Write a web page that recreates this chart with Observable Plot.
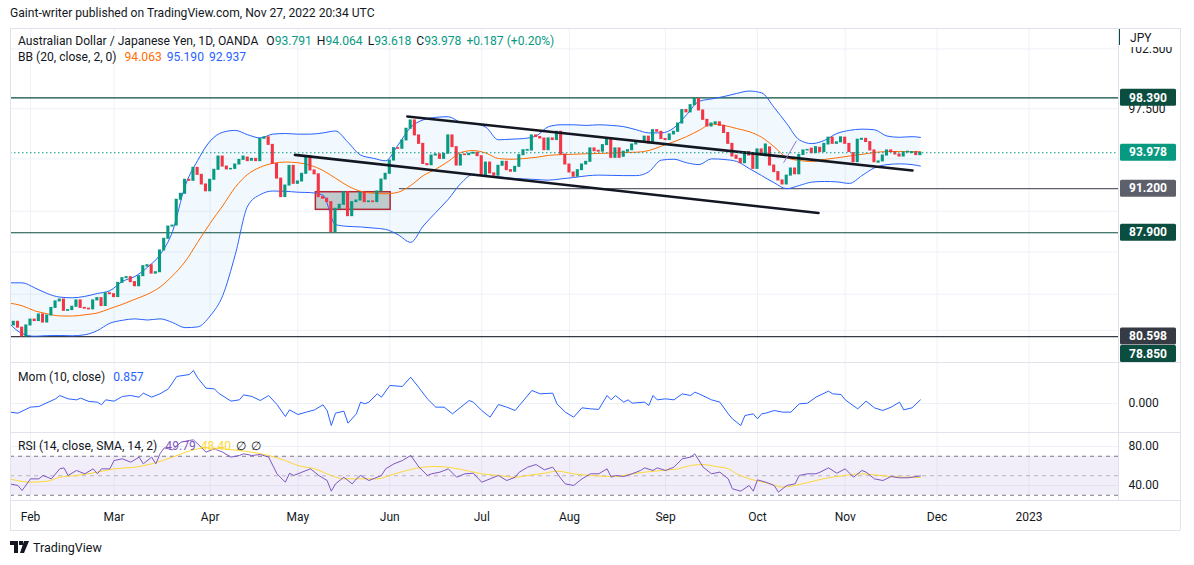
<!DOCTYPE html>
<html><head><meta charset="utf-8">
<script src="https://cdn.jsdelivr.net/npm/d3@7"></script>
<script src="https://cdn.jsdelivr.net/npm/@observablehq/plot@0.6"></script>
<style>
html,body{margin:0;padding:0;background:#fff;}
body{width:1194px;height:565px;overflow:hidden;font-family:Roboto,"Noto Sans",sans-serif;color:#131722;}
#wrap{position:relative;width:1194px;height:565px;}
.abs{position:absolute;white-space:nowrap;}
.pane{position:absolute;left:10px;}
.pane svg{overflow:hidden !important;}
.hl{position:absolute;background:#e0e3eb;}
.leg{font-size:12.1px;line-height:15px;}
.leg span{margin-left:5px;}
</style></head><body><div id="wrap"></div>
<script>
// ---------------- DATA ----------------
const calendarStart = "2022-01-25";           // first (partly visible) daily bar
const monthFirstDays = ["2022-02-01","2022-03-01","2022-04-01","2022-05-01","2022-06-01","2022-07-01","2022-08-01","2022-09-01","2022-10-01","2022-11-01","2022-12-01","2023-01-01"];
const monthLabels = ["Feb","Mar","Apr","May","Jun","Jul","Aug","Sep","Oct","Nov","Dec","2023"];

const opens = [
81.5,81.35,81.6,81.2,80.6,81.35,81.75,81.65,82.1,81.55,
82.03,82.55,83.0,83.13,82.35,82.4,82.63,83.07,82.55,82.5,
82.45,83.07,83.23,82.68,83.57,83.5,83.3,84.3,84.63,84.7,
84.35,84.06,84.77,85.45,85.55,84.95,85.05,86.61,87.46,88.36,
88.44,90.36,90.81,91.88,91.8,92.8,92.26,91.52,91.0,91.88,
92.65,93.68,92.9,92.68,92.72,93.06,93.42,93.6,93.35,93.5,
93.32,95.08,95.2,94.6,93.1,91.97,90.56,91.44,92.95,91.57,
91.75,92.34,93.7,92.6,92.3,90.56,90.44,90.18,87.94,89.68,
89.98,90.93,89.13,90.18,90.3,90.9,90.18,90.23,90.18,90.99,
91.9,92.34,93.37,94.34,94.29,94.95,95.88,96.55,95.35,94.68,
93.1,93.0,93.76,93.85,93.5,93.9,95.35,94.42,92.98,93.84,
93.79,93.9,93.98,93.71,92.19,93.21,92.37,92.19,92.96,93.27,
92.62,92.5,92.88,93.79,94.14,94.15,95.35,95.22,95.1,94.18,
95.11,94.98,95.64,93.84,93.06,92.44,92.11,92.62,93.06,93.27,
94.32,94.14,94.06,94.58,95.11,93.58,94.32,93.66,94.06,94.18,
94.63,94.85,94.79,95.25,94.71,95.77,95.64,95.06,94.98,95.43,
95.64,96.3,97.39,97.2,97.79,98.3,97.36,96.6,96.06,96.25,
96.4,96.12,95.54,94.68,93.75,93.5,93.16,94.03,93.9,92.72,
94.24,93.7,94.4,92.98,92.47,91.83,91.52,92.2,92.75,92.3,
93.8,94.16,94.3,93.95,94.37,94.03,94.63,95.17,94.68,94.8,
95.17,94.68,93.95,93.24,95.0,95.08,94.82,94.16,93.2,93.3,
93.76,94.16,94.03,93.84,93.68,94.0,93.95,94.03,93.791];
const closes = [
81.4,81.6,81.2,80.6,81.35,81.75,81.65,82.1,81.55,82.03,
82.55,83.0,83.13,82.35,82.4,82.63,83.07,82.55,82.5,82.45,
83.07,83.23,82.68,83.57,83.5,83.3,84.3,84.63,84.7,84.35,
84.06,84.77,85.48,85.55,84.95,85.05,86.61,87.46,88.36,88.43,
90.36,90.81,91.88,91.8,92.8,92.26,91.52,91.0,91.88,92.65,
93.68,92.9,92.68,92.72,93.06,93.42,93.68,93.32,93.5,93.32,
95.08,95.2,94.6,93.1,91.97,90.56,91.44,92.95,91.57,91.75,
92.34,93.7,92.6,92.3,90.56,90.44,90.18,87.94,89.68,89.98,
90.93,89.13,90.18,90.3,90.9,90.18,90.23,90.18,90.99,91.9,
92.34,93.37,94.34,94.29,94.95,95.88,96.55,95.35,94.68,93.1,
93.0,93.76,93.85,93.5,93.9,95.35,94.42,92.98,93.82,93.79,
93.9,93.98,93.71,92.19,93.21,92.37,92.19,92.96,93.27,92.62,
92.5,92.88,93.79,94.18,94.2,95.35,95.22,95.1,94.18,95.11,
94.98,95.64,93.84,93.06,92.44,92.11,92.62,93.06,93.27,94.32,
94.1,94.06,94.58,95.11,93.58,94.32,93.58,94.06,94.18,94.63,
94.85,94.79,95.25,94.71,95.77,95.64,95.06,94.98,95.43,95.64,
96.3,97.39,97.2,97.79,98.3,97.36,96.6,96.06,96.3,96.4,
96.12,95.54,94.68,93.68,93.5,93.16,94.03,93.76,92.72,94.24,
93.76,94.63,92.98,92.47,91.83,91.52,92.2,92.75,92.3,93.8,
94.16,94.2,93.95,94.42,94.03,94.68,95.17,94.68,94.8,95.2,
94.68,94.03,93.24,95.01,95.08,94.82,94.16,93.24,93.3,93.76,
94.16,94.03,93.84,93.68,94.0,94.06,94.03,93.791,93.978];

// Bollinger Bands (20, 2)
const bbIdx = [0,3,6,9,12,15,18,21,24,27,30,33,36,39,42,45,48,51,54,57,60,63,66,69,72,75,78,81,84,87,90,93,96,99,102,105,108,111,114,117,120,123,126,129,132,135,138,141,144,147,150,153,156,159,162,165,168,171,174,177,180,183,186,189,192,195,198,201,204,207,210,213,216,218];
const bbUpper = [84.3,84.3,83.95,83.55,83.3,83.25,83.35,83.55,83.75,84.4,84.75,85.4,86.3,88.0,91.4,93.37,94.9,95.6,95.75,95.4,95.15,95.45,95.5,95.45,95.45,95.55,95.7,94.8,93.8,93.55,93.35,94.6,96.0,96.6,96.8,96.85,96.4,96.3,96.0,95.0,95.05,95.1,95.3,96.05,96.2,96.2,96.15,96.2,96.15,96.05,95.8,95.55,95.55,95.95,97.0,98.1,98.3,98.5,98.75,98.95,98.8,97.6,96.3,95.0,94.7,94.95,95.5,95.75,95.85,95.8,95.3,95.2,95.25,95.19];
const bbMiddle = [82.88,82.7,82.35,82.15,82.0,81.99,82.08,82.2,82.5,82.8,83.15,83.5,84.0,84.8,85.8,87.2,88.6,89.9,91.3,92.3,92.85,93.15,93.25,93.2,93.0,92.6,92.0,91.4,91.0,90.86,90.81,90.93,91.44,92.2,92.7,93.3,94.0,94.15,93.95,93.53,93.47,93.52,93.62,93.77,93.83,93.86,93.9,93.92,93.96,94.0,94.02,94.15,94.5,94.85,95.25,95.75,96.25,96.15,95.9,95.65,95.2,94.45,93.6,93.37,93.3,93.45,93.58,93.72,93.85,94.0,94.07,94.08,94.05,94.063];
const bbLower = [81.46,80.8,80.62,80.66,80.67,80.65,80.72,81.0,81.5,81.7,81.8,81.72,81.8,81.55,81.2,81.25,82.0,83.4,86.3,89.9,90.75,91.02,91.0,90.93,90.9,90.7,88.5,88.37,88.33,88.25,88.15,87.75,87.2,88.4,89.4,90.4,91.6,92.3,92.17,92.11,92.0,91.95,91.9,91.85,91.95,92.05,92.18,92.24,92.22,92.2,92.2,92.5,93.4,93.47,93.2,93.05,93.5,93.45,93.3,92.75,92.2,91.65,91.2,91.44,91.7,91.75,91.72,91.6,92.2,92.8,93.05,93.11,93.05,92.937];

// Momentum (10, close)
const momIdx = [0,2,5,7,11,12,14,16,17,19,21,22,23,25,27,29,31,32,34,36,38,40,43,44,45,47,49,50,53,55,56,58,60,62,64,66,67,69,71,73,75,76,77,78,80,81,83,84,85,86,88,89,91,94,96,98,100,102,104,106,108,110,111,113,115,117,119,121,122,125,127,130,131,133,135,137,139,141,143,144,145,147,148,149,152,153,154,155,157,159,161,163,164,165,168,170,172,173,175,176,178,179,180,181,183,185,187,189,191,193,196,197,199,200,203,205,207,209,211,213,214,216,218];
const momVal = [-2.06,-2.3,-0.87,-0.71,1.11,1.9,1.11,0.87,1.27,0.48,0.32,-0.32,0.87,0.56,1.67,1.9,1.51,2.46,1.51,2.3,3.49,6.43,6.9,7.86,6.11,3.65,3.49,2.46,0.56,0.87,2.06,1.67,0.71,1.9,-0.24,-3.1,-1.51,-2.62,-2.06,-1.51,-0.32,-1.67,-5.24,-2.3,-1.83,-4.68,-2.46,0.32,-0.08,0.32,2.3,1.51,4.29,4.05,6.27,3.73,1.11,-0.87,-0.87,-2.46,-0.87,0.71,0.32,-1.67,-3.25,-0.24,-0.87,-1.67,-0.48,3.1,2.3,2.46,-0.08,-2.06,-3.25,-1.03,-1.27,-1.4,1.9,0.87,1.9,0.32,0.87,0.08,0.32,-0.48,1.9,0.87,1.11,0.87,2.3,1.9,2.7,2.3,0.87,0.32,-2.46,-3.65,-5.24,-2.86,-2.46,-3.65,-2.46,-2.3,-1.67,-2.06,-2.06,-0.08,0.08,1.51,2.94,2.3,2.14,0.87,-1.27,0.56,-1.03,-1.67,-0.87,0.32,-1.51,-1.03,0.857];

// RSI (14) and its SMA (14)
const rsiIdx = [0,2,3,5,7,8,10,12,13,14,16,18,20,21,22,24,25,27,29,31,32,34,35,36,37,39,41,43,44,46,47,49,51,53,55,56,58,60,62,64,66,67,68,70,72,74,76,77,78,80,82,83,84,86,87,89,90,92,94,96,98,100,101,103,105,107,109,111,113,115,117,119,121,122,124,126,128,130,132,133,135,137,139,141,143,144,145,147,149,151,152,154,155,157,159,161,163,164,166,168,170,172,173,175,177,178,179,181,183,184,186,188,189,191,193,194,196,198,200,202,204,205,207,209,211,213,215,216,218];
const rsiVal = [41.7,40,34.9,46.8,46.8,50.3,46.8,57.1,58.1,50.3,55.4,52,57.1,52,57.1,57.1,65.6,67.4,63.9,69.1,62.2,69.1,62.2,72.5,78.6,76.6,84.4,86.2,86.8,78.6,74.2,77.6,74.2,69.1,70.8,72.5,70.8,71.8,69.1,52,43.4,52.6,50.3,53.7,57.1,50.3,45.1,34.2,41.7,48.5,41.7,46.8,50.3,45.1,46.8,50.3,57.1,62.2,65.6,70.8,58.8,50.3,52,53.7,57.1,48.5,52,52.6,43.4,46.8,50.3,45.1,48.5,53.7,58.8,61.5,56.1,58.8,46.8,41.7,40,46.8,52,52,57.1,48.5,50.3,49.2,52,55.4,58.1,55.4,58.1,55.4,58.8,67.4,69.1,72.5,58.8,52,53.7,46.8,36.6,34.2,40,34.2,45.8,43.4,40,33.2,40,41.7,50.3,52,52,53.7,58.1,52.6,57.1,48.5,55.4,53.7,46.8,45.1,49.2,47.9,47.9,48.5,49.79];
const rsiSmaIdx = [0,5,9,12,16,21,25,30,34,39,44,47,51,55,58,62,66,69,73,77,80,84,88,91,95,99,102,106,110,113,117,121,124,128,131,135,139,145,149,152,156,160,163,166,169,172,174,178,182,185,189,193,196,200,204,207,211,215,218];
const rsiSmaVal = [46.8,43.4,44.4,48.5,50.3,53.7,57.1,58.8,62.2,69.1,76.6,78.6,77.6,75.9,74.2,70.8,65.6,60.5,57.1,50.3,46.8,46.8,46.8,50.3,55.4,58.8,59.5,58.1,54.7,52,50.3,48.5,50.3,52.6,54.7,52,50.3,49.2,52,53.7,55.4,57.1,60.5,61.5,59.5,57.1,52,45.8,41.7,38.3,41,45.1,47.9,50.3,52,50.9,49.2,48.5,48.4];

// Drawings on the price pane (bar index / price)
const levelPrices = [98.39, 91.2, 87.9, 80.598];
const levelFrom   = [0, 93.3, 0, 0];
const levelColors = ["#0b4d3f", "#5d606b", "#0b4d3f", "#363a45"];
const upperTrend = [{i:95.2, p:96.87}, {i:216.1, p:92.6}];
const lowerTrend = [{i:68.3, p:93.81}, {i:193.6, p:89.36}];
const purpleStroke = [{i:185.3, p:93.22}, {i:188.3, p:94.9}];
const zoneBox = [{i1:73.3, i2:91.2, p1:89.6, p2:90.93}];
const priceTicks = [81, 83.5, 86.5, 89.5, 93.5, 97.5, 102.5];
const axisBoxPrices = [98.39, 93.978, 91.2, 87.9, 80.598, 78.85];
const axisBoxColors = ["#0b4d3f", "#089981", "#5d606b", "#0b4d3f", "#363a45", "#0b4d3f"];

// ---------------- BUILD ----------------
const wrap = document.getElementById("wrap");
function weekdayIndex(ds){
  const s = new Date(calendarStart+"T00:00:00Z"), e = new Date(ds+"T00:00:00Z");
  let n = 0;
  for (let d = new Date(s); d < e; d.setUTCDate(d.getUTCDate()+1)) { const w = d.getUTCDay(); if (w!==0 && w!==6) n++; }
  return n;
}
const monthIdx = monthFirstDays.map(weekdayIndex);
const monthFmt = d => monthLabels[monthIdx.indexOf(d)];

const candles = opens.map((o,i)=>({i, open:o, close:closes[i]}));
const up = candles.filter(d=>d.close>=d.open), dn = candles.filter(d=>d.close<d.open);
const bb = bbIdx.map((i,k)=>({i, upper:bbUpper[k], mid:bbMiddle[k], lower:bbLower[k]}));
const mom = momIdx.map((i,k)=>({i, v:momVal[k]}));
const rsi = rsiIdx.map((i,k)=>({i, v:rsiVal[k]}));
const rsiSma = rsiSmaIdx.map((i,k)=>({i, v:rsiSmaVal[k]}));
const levels = levelPrices.map((p,k)=>({p, from:levelFrom[k], color:levelColors[k]}));
const lastClose = closes[closes.length-1];

const xDomain = [0.215, 265.41];
const W = 1170, MR = 62;
const baseStyle = {fontFamily:"Roboto, 'Noto Sans', sans-serif", fontSize:"12px", color:"#131722", background:"transparent", overflow:"hidden"};
const grid = "#eef1f7";

function addPane(top, svg){
  const d = document.createElement("div"); d.className="pane"; d.style.top = top+"px"; d.appendChild(svg); wrap.appendChild(d);
}

// Price pane
const pricePlot = Plot.plot({
  width: W, height: 334, marginLeft: 0, marginRight: MR, marginTop: 0, marginBottom: 0,
  style: baseStyle,
  x: {type:"linear", domain: xDomain, axis: null},
  y: {type:"log", domain:[78.87, 104.26], axis:"right", ticks: priceTicks, tickFormat: d3.format(".3f"), tickSize: 0, tickPadding: 10, label: null},
  marks: [
    Plot.ruleX(monthIdx, {stroke: grid}),
    Plot.ruleY(priceTicks, {stroke: grid}),
    Plot.areaY(bb, {x:"i", y1:"lower", y2:"upper", fill:"#2196f3", fillOpacity:0.06, curve:"monotone-x"}),
    Plot.rect(zoneBox, {x1:"i1", x2:"i2", y1:"p1", y2:"p2", fill:"#7f9090", fillOpacity:0.45, stroke:"#b22833", strokeWidth:1.5}),
    Plot.ruleY(levels, {y:"p", x1:"from", x2: xDomain[1], stroke: d=>d.color, strokeWidth:1.2}),
    Plot.line(bb, {x:"i", y:"upper", stroke:"#2962ff", strokeWidth:1, curve:"monotone-x"}),
    Plot.line(bb, {x:"i", y:"lower", stroke:"#2962ff", strokeWidth:1, curve:"monotone-x"}),
    Plot.line(bb, {x:"i", y:"mid", stroke:"#ff6d00", strokeWidth:1, curve:"monotone-x"}),
    Plot.rect(up, {x1: d=>d.i-0.37, x2: d=>d.i+0.37, y1:"open", y2:"close", fill:"#089981", insetTop:-0.5, insetBottom:-0.5}),
    Plot.rect(dn, {x1: d=>d.i-0.37, x2: d=>d.i+0.37, y1:"open", y2:"close", fill:"#f23645", insetTop:-0.5, insetBottom:-0.5}),
    Plot.line(upperTrend, {x:"i", y:"p", stroke:"#131722", strokeWidth:2.6}),
    Plot.line(lowerTrend, {x:"i", y:"p", stroke:"#131722", strokeWidth:2.6}),
    Plot.line(purpleStroke, {x:"i", y:"p", stroke:"#9575cd", strokeWidth:1}),
    Plot.ruleY([lastClose], {stroke:"#089981", strokeDasharray:"1.5,2.5", strokeWidth:1.2})
  ]
});
// axis boxes for levels
{
  const ys = pricePlot.scale("y");
  const g = d3.select(pricePlot).append("g");
  // white cover under the currency label (the top tick label peeks out below it)
  g.append("rect").attr("x", 1109).attr("y", 0).attr("width", 61).attr("height", 19).attr("fill", "#fff");
  axisBoxPrices.forEach((p,k)=>{
    let cy = ys.apply(p);
    cy = Math.max(9, Math.min(334-8.5, cy));
    g.append("rect").attr("x", 1110).attr("y", cy-8.5).attr("width", 56).attr("height", 17).attr("rx", 1.5).attr("fill", axisBoxColors[k]);
    g.append("text").attr("x", 1138).attr("y", cy).attr("dy","0.35em").attr("text-anchor","middle")
      .attr("fill","#fff").attr("font-weight","bold").attr("font-size","12px").text(d3.format(".3f")(p));
  });
}
addPane(28, pricePlot);

// Momentum pane
const momPlot = Plot.plot({
  width: W, height: 70, marginLeft: 0, marginRight: MR, marginTop: 0, marginBottom: 0,
  style: baseStyle,
  x: {type:"linear", domain: xDomain, axis: null},
  y: {domain:[-6.905, 9.76], axis:"right", ticks:[0], tickFormat: d3.format(".3f"), tickSize:0, tickPadding:10, label:null},
  marks: [
    Plot.ruleX(monthIdx, {stroke: grid}),
    Plot.ruleY([0], {stroke: grid}),
    Plot.line(mom, {x:"i", y:"v", stroke:"#2962ff", strokeWidth:1})
  ]
});
addPane(362, momPlot);

// RSI pane + time axis
const rsiPlot = Plot.plot({
  width: W, height: 98, marginLeft: 0, marginRight: MR, marginTop: 0, marginBottom: 30,
  style: baseStyle,
  x: {type:"linear", domain: xDomain, axis:"bottom", ticks: monthIdx, tickFormat: monthFmt, tickSize:0, tickPadding:12, label:null},
  y: {domain:[24.62, 94.36], axis:"right", ticks:[40,80], tickFormat: d3.format(".2f"), tickSize:0, tickPadding:10, label:null},
  marks: [
    Plot.ruleX(monthIdx, {stroke: grid, y1: 24.62, y2: 94.36}),
    Plot.ruleY([40, 80], {stroke: grid}),
    Plot.rect([{a:30, b:70}], {y1:"a", y2:"b", fill:"#7e57c2", fillOpacity:0.1}),
    Plot.ruleY([70, 30], {stroke:"#787b86", strokeDasharray:"4,4"}),
    Plot.ruleY([50], {stroke:"#787b86", strokeOpacity:0.5, strokeDasharray:"4,4"}),
    Plot.line(rsiSma, {x:"i", y:"v", stroke:"#fdd835", strokeWidth:1, curve:"monotone-x"}),
    Plot.line(rsi, {x:"i", y:"v", stroke:"#7e57c2", strokeWidth:1})
  ]
});
addPane(432, rsiPlot);

// frame lines
function hline(x,y,w){ const d=document.createElement("div"); d.className="hl"; Object.assign(d.style,{left:x+"px",top:y+"px",width:w+"px",height:"1px"}); wrap.appendChild(d); }
function vline(x,y,h){ const d=document.createElement("div"); d.className="hl"; Object.assign(d.style,{left:x+"px",top:y+"px",width:"1px",height:h+"px"}); wrap.appendChild(d); }
hline(10,28,1170); hline(10,362,1170); hline(10,432,1170); hline(10,500,1170); hline(10,530,1170);
vline(10,28,502); vline(1118,28,472); vline(1180,28,502);

// text
function txt(x,y,html,cls){ const d=document.createElement("div"); d.className="abs "+(cls||""); d.style.left=x+"px"; d.style.top=y+"px"; d.innerHTML=html; wrap.appendChild(d); return d; }
txt(10,6,"Gaint-writer published on TradingView.com, Nov 27, 2022 20:34 UTC","leg");
const T = "#089981";
txt(18,34,`Australian Dollar / Japanese Yen, 1D, OANDA <span>O<b style="font-weight:normal;color:${T}">93.791</b></span><span>H<b style="font-weight:normal;color:${T}">94.064</b></span><span>L<b style="font-weight:normal;color:${T}">93.618</b></span><span>C<b style="font-weight:normal;color:${T}">93.978</b></span><span style="color:${T}">+0.187 (+0.20%)</span>`,"leg");
txt(18,50,`BB (20, close, 2, 0) <span style="color:#ff6d00">94.063</span><span style="color:#2962ff">95.190</span><span style="color:#2962ff">92.937</span>`,"leg");
txt(18,370,`Mom (10, close) <span style="color:#2962ff">0.857</span>`,"leg");
txt(18,439,`RSI (14, close, SMA, 14, 2) <span style="color:#7e57c2">49.79</span><span style="color:#fdd835">48.40</span><span>∅</span><span>∅</span>`,"leg");
txt(1130,31,"JPY","leg");
{ const d=document.createElement("div"); Object.assign(d.style,{position:"absolute",left:"1119px",top:"29px",width:"1px",height:"16px",background:"#0b4d3f"}); wrap.appendChild(d); }
// footer logo
txt(10,540,`<svg width="20" height="12" style="vertical-align:-1px"><path d="M0 0h8v12H4V4H0z M9 0h4v4h-4z M14 0h5l-5 12h-4z" fill="#131722"/></svg><span style="margin-left:3px;font-size:12.5px">TradingView</span>`,"leg");
</script></body></html>
